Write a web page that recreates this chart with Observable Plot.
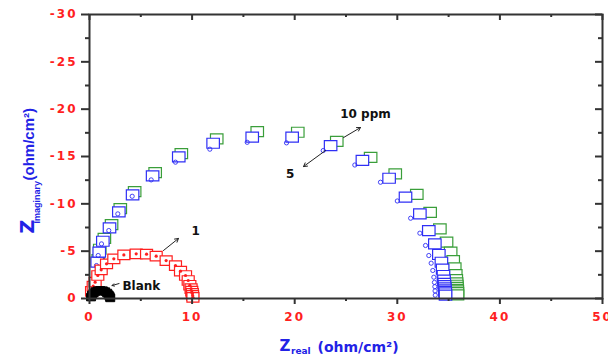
<!DOCTYPE html>
<html><head><meta charset="utf-8">
<script src="https://cdn.jsdelivr.net/npm/d3@7"></script>
<script src="https://cdn.jsdelivr.net/npm/@observablehq/plot@0.6"></script>
<style>
html,body{margin:0;padding:0;background:#fff;}
svg g[aria-label="x-axis tick label"] text, svg g[aria-label="y-axis tick label"] text {letter-spacing:2px;}
svg g[aria-label="anno"] text {letter-spacing:1px;}
svg g[aria-label="xtitle-unit"] text {letter-spacing:1.5px;}
</style></head><body><div id="chart"></div>
<script>
// ---- data ----
const blankX = [0.15, 0.25, 0.4, 0.58, 0.8, 1.05, 1.3, 1.52, 1.72, 1.86, 1.96, 2.02];
const blankY = [-0.15, -0.38, -0.58, -0.73, -0.83, -0.86, -0.83, -0.73, -0.58, -0.4, -0.22, -0.06];

const redX = [0.2, 0.36, 0.55, 0.81, 1.14, 1.66, 2.37, 3.35, 4.55, 5.56, 6.5, 7.47, 8.38, 8.87, 9.36, 9.62, 9.78, 9.9, 9.97, 10.02, 10.05, 10.08];
const redY = [-0.75, -1.3, -1.72, -2.43, -3.03, -3.66, -4.19, -4.6, -4.72, -4.68, -4.47, -4.01, -3.48, -2.89, -2.43, -1.9, -1.4, -1.05, -0.78, -0.55, -0.33, -0.12];

const blueSqX = [0.75, 0.95, 1.3, 1.95, 2.86, 4.2, 6.15, 8.7, 12.05, 15.86, 19.75, 23.5, 26.6, 29.2, 30.8, 32.2, 33.07, 33.66, 34.05, 34.3, 34.42, 34.5, 34.55, 34.58, 34.6, 34.62, 34.64, 34.66, 34.68, 34.7];
const blueSqY = [-3.85, -4.9, -6.05, -7.45, -9.15, -10.95, -12.95, -14.95, -16.4, -17.05, -17.05, -16.15, -14.6, -12.7, -10.7, -8.94, -7.18, -5.77, -4.65, -3.83, -3.1, -2.43, -1.95, -1.6, -1.35, -1.12, -0.92, -0.75, -0.6, -0.35];

const blueCirX = [0.68, 0.85, 1.17, 1.88, 2.76, 4.16, 6.01, 8.38, 11.73, 15.37, 19.2, 22.78, 25.86, 28.36, 30.0, 31.3, 32.2, 32.75, 33.07, 33.3, 33.46, 33.56, 33.62, 33.66, 33.68, 33.7];
const blueCirY = [-3.48, -4.54, -5.77, -7.18, -8.94, -10.8, -12.53, -14.4, -15.77, -16.5, -16.44, -15.63, -14.1, -12.28, -10.3, -8.48, -6.9, -5.6, -4.54, -3.73, -2.96, -2.25, -1.7, -1.25, -0.8, -0.35];

const greenX = [0.85, 1.0, 1.45, 2.15, 3.0, 4.4, 6.4, 8.95, 12.4, 16.35, 20.3, 24.1, 27.4, 29.8, 31.9, 33.2, 34.15, 34.8, 35.2, 35.45, 35.6, 35.7, 35.75, 35.78, 35.8, 35.82, 35.84, 35.85, 35.86, 35.87];
const greenY = [-4.1, -5.2, -6.35, -7.8, -9.5, -11.3, -13.3, -15.3, -16.86, -17.63, -17.56, -16.6, -14.9, -13.16, -11.0, -9.1, -7.36, -5.95, -4.9, -4.0, -3.24, -2.53, -2.0, -1.65, -1.4, -1.17, -0.97, -0.8, -0.62, -0.38];

const annoLabels = ["Blank", "1", "5", "10 ppm"];
const annoX = [5.05, 10.36, 19.56, 26.9];
const annoY = [-1.27, -7.07, -13.15, -19.43];
const arrowX1 = [2.88, 7.21, 23.0, 24.76];
const arrowY1 = [-1.58, -5.07, -15.63, -17.0];
const arrowX2 = [2.2, 8.67, 20.86, 26.41];
const arrowY2 = [-1.37, -6.34, -13.94, -18.06];

const xMajor = [0, 10, 20, 30, 40, 50];
const xMinor = [5, 15, 25, 35, 45];
const yMajor = [0, -5, -10, -15, -20, -25, -30];
const yMinor = [-2.5, -7.5, -12.5, -17.5, -22.5, -27.5];

// ---- layout / style ----
const W = 608, H = 361, ML = 89, MR = 6, MT = 14, MB = 63;
const FW = W - ML - MR, FH = H - MT - MB;
const RED = "#ff1f1f", BLUE = "#2f2ff5", GREEN = "#3a9e3a", AX = "#333", TITLE = "#2222e6";
const NUMFONT = "DejaVu Sans", TFONT = "Liberation Sans, Arial, sans-serif";

const pts = (xs, ys) => xs.map((x, i) => ({x, y: ys[i]}));
const rectSym = (w, h) => ({draw(c) { c.moveTo(-w/2, -h/2); c.lineTo(w/2, -h/2); c.lineTo(w/2, h/2); c.lineTo(-w/2, h/2); c.closePath(); }});
const arrows = arrowX1.map((x1, i) => ({x1, y1: arrowY1[i], x2: arrowX2[i], y2: arrowY2[i]}));
const annos = annoLabels.map((t, i) => ({t, x: annoX[i], y: annoY[i]}));

const piece = (txt, o) => Plot.text([txt], Object.assign({frameAnchor: "bottom-left", lineAnchor: "bottom", textAnchor: "start", fill: TITLE, fontWeight: "bold"}, o));

const chart = Plot.plot({
  width: W, height: H, marginLeft: ML, marginRight: MR, marginTop: MT, marginBottom: MB,
  x: {domain: [0, 50]},
  y: {domain: [0, -30]},
  style: {background: "white", overflow: "visible"},
  marks: [
    Plot.dot(pts(greenX, greenY), {x: "x", y: "y", symbol: rectSym(12.5, 10), fill: "white", stroke: GREEN, strokeWidth: 1.2}),
    Plot.dot(pts(blueSqX, blueSqY), {x: "x", y: "y", symbol: rectSym(12.5, 10), fill: "white", stroke: BLUE, strokeWidth: 1.2}),
    Plot.dot(pts(blueCirX, blueCirY), {x: "x", y: "y", r: 2.1, fill: "none", stroke: BLUE, strokeWidth: 0.9}),
    Plot.dot(pts(redX, redY), {x: "x", y: "y", symbol: rectSym(12, 9.5), fill: "white", stroke: RED, strokeWidth: 1.2}),
    Plot.dot(pts(redX, redY), {x: "x", y: "y", r: 1.6, fill: RED, stroke: null}),
    Plot.dot(pts(blankX, blankY), {x: "x", y: "y", symbol: rectSym(9, 7.5), fill: "black", stroke: "black", strokeWidth: 1}),
    Plot.arrow(arrows, {x1: "x1", y1: "y1", x2: "x2", y2: "y2", stroke: "#222", strokeWidth: 1, headLength: 6}),
    Plot.text(annos, {x: "x", y: "y", text: "t", fontFamily: NUMFONT, fontWeight: "bold", fontSize: 12, fill: "#111", ariaLabel: "anno"}),
    Plot.frame({stroke: AX, strokeWidth: 2}),
    Plot.tickX(xMajor, {x: d => d, insetBottom: FH - 6, stroke: AX, strokeWidth: 2}),
    Plot.tickX(xMinor, {x: d => d, insetBottom: FH - 3, stroke: AX, strokeWidth: 2}),
    Plot.tickY(yMajor, {y: d => d, insetLeft: FW - 7, stroke: AX, strokeWidth: 2}),
    Plot.tickY(yMinor, {y: d => d, insetLeft: FW - 4, stroke: AX, strokeWidth: 2}),
    Plot.axisX({anchor: "bottom", ticks: xMajor, tickSize: 6, tickPadding: 8, tickFormat: d => String(d), label: null,
      stroke: AX, strokeWidth: 2, fill: RED, fontSize: 12, fontWeight: "bold", fontFamily: NUMFONT}),
    Plot.axisX({anchor: "bottom", ticks: xMinor, tickSize: 3, tickFormat: () => "", label: null, stroke: AX, strokeWidth: 2}),
    Plot.axisY({anchor: "left", ticks: yMajor, tickSize: 8, tickPadding: 4, tickFormat: d => String(d), label: null,
      stroke: AX, strokeWidth: 2, fill: RED, fontSize: 12, fontWeight: "bold", fontFamily: NUMFONT}),
    Plot.axisY({anchor: "left", ticks: yMinor, tickSize: 4, tickFormat: () => "", label: null, stroke: AX, strokeWidth: 2}),
    // x title: Z_real (ohm/cm²)
    piece("Z", {dx: 190, dy: 52, fontSize: 15, fontFamily: NUMFONT}),
    piece("real", {dx: 201.5, dy: 55, fontSize: 9, fontFamily: NUMFONT}),
    piece("(ohm/cm²)", {dx: 228, dy: 53, fontSize: 14, fontFamily: NUMFONT, ariaLabel: "xtitle-unit"}),
    // y title: Z_imaginary (ohm/cm²), rotated
    piece("Z", {dx: -56, dy: -65, fontSize: 19, rotate: -90, fontFamily: NUMFONT}),
    piece("Imaginary", {dx: -49.5, dy: -75, fontSize: 9, rotate: -90, fontFamily: TFONT}),
    piece("(ohm/cm²)", {dx: -56, dy: -118, fontSize: 15, rotate: -90, fontFamily: TFONT})
  ]
});
document.getElementById("chart").appendChild(chart);
</script></body></html>
